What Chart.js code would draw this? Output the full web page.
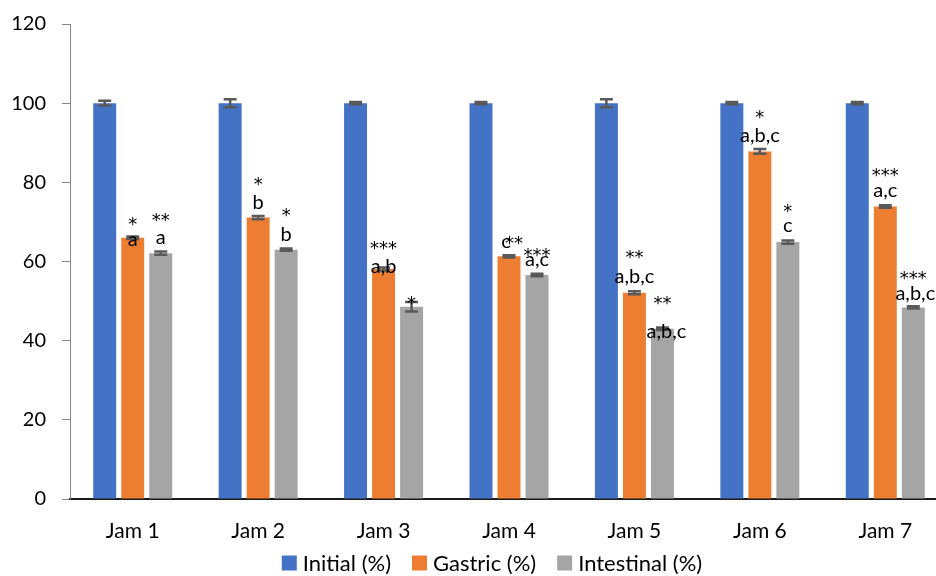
<!DOCTYPE html>
<html>
<head>
<meta charset="utf-8">
<script src="https://cdn.jsdelivr.net/npm/chart.js@4"></script>
<style>
  html, body { margin: 0; padding: 0; background: #ffffff; overflow: hidden; }
  #wrap { position: relative; width: 984px; height: 576px; }
</style>
</head>
<body>
<div id="wrap"><canvas id="c" width="984" height="576"></canvas></div>
<script>
// ---- data ----
const categories = ['Jam 1', 'Jam 2', 'Jam 3', 'Jam 4', 'Jam 5', 'Jam 6', 'Jam 7'];
const seriesNames = ['Initial (%)', 'Gastric (%)', 'Intestinal (%)'];

const initialValues    = [100, 100, 100, 100, 100, 100, 100];
const gastricValues    = [66.0, 71.1, 58.1, 61.3, 52.1, 87.8, 73.9];
const intestinalValues = [62.1, 63.0, 48.6, 56.6, 43.0, 64.9, 48.4];

const initialErrors    = [0.6, 1.0, 0.3, 0.3, 1.0, 0.3, 0.3];
const gastricErrors    = [0.3, 0.4, 0.4, 0.3, 0.4, 0.6, 0.3];
const intestinalErrors = [0.4, 0.3, 1.2, 0.3, 0.3, 0.4, 0.3];

// significance marks shown above the bars
const gastricStars      = ['*', '*', '***', '**', '**', '*', '***'];
const gastricLetters    = ['a', 'b', 'a,b', 'c', 'a,b,c', 'a,b,c', 'a,c'];
const intestinalStars   = ['**', '*', '*', '***', '**', '*', '***'];
const intestinalLetters = ['a', 'b', '', 'a,c', 'a,b,c', 'c', 'a,b,c'];

const yMin = 0, yMax = 120, yStep = 20;

// ---- label placement (px): letter baseline above bar top, star centre above that baseline, x shifts ----
const gastricMarkLayout = [
  { dy: -8, sy: 24, sx: 0, lx: 0 },
  { dy: 9,  sy: 27, sx: 0, lx: 0 },
  { dy: -4, sy: 28, sx: 0, lx: 0 },
  { dy: 8,  sy: 8,  sx: 5, lx: -3 },
  { dy: 10, sy: 28, sx: 0, lx: 0 },
  { dy: 9,  sy: 28, sx: 0, lx: 0 },
  { dy: 9,  sy: 25, sx: 0, lx: 0 }
];
const intestinalMarkLayout = [
  { dy: 9,   sy: 27, sx: 0, lx: 0 },
  { dy: 9,   sy: 28, sx: 0, lx: 0 },
  { dy: -19, sy: 25, sx: 0, lx: 0 },
  { dy: 9,   sy: 13, sx: 0, lx: 0 },
  { dy: -9,  sy: 37, sx: 0, lx: 4 },
  { dy: 10,  sy: 24, sx: 0, lx: 0 },
  { dy: 7,   sy: 25, sx: 0, lx: 2 }
];

const FONT = 'Lato, "Open Sans", "Noto Sans", sans-serif';
const STAR_FONT = '18px "DejaVu Sans", sans-serif';
const FONT_SIZE = 20;
const LABEL_SIZE = 21;
const LEGEND_SIZE = 22;
const TEXT = '#000000';
const COLORS = ['#4472C4', '#ED7D31', '#A5A5A5'];

// error bars drawn from the value/error arrays through the y scale
const errorBarPlugin = {
  id: 'errorBars',
  afterDatasetsDraw(chart) {
    const ctx = chart.ctx;
    const yScale = chart.scales.y;
    const errs = [initialErrors, gastricErrors, intestinalErrors];
    ctx.save();
    ctx.strokeStyle = '#595959';
    ctx.lineWidth = 2.5;
    chart.data.datasets.forEach((ds, i) => {
      const meta = chart.getDatasetMeta(i);
      meta.data.forEach((bar, j) => {
        const v = ds.data[j];
        const e = errs[i][j];
        const yT = yScale.getPixelForValue(v + e);
        const yB = yScale.getPixelForValue(v - e);
        const x = bar.x;
        const half = 6.5;
        ctx.beginPath();
        ctx.moveTo(x, yT); ctx.lineTo(x, yB);
        ctx.moveTo(x - half, yT); ctx.lineTo(x + half, yT);
        ctx.moveTo(x - half, yB); ctx.lineTo(x + half, yB);
        ctx.stroke();
      });
    });
    ctx.restore();
  }
};

// significance letters and asterisks
const marksPlugin = {
  id: 'marks',
  afterDatasetsDraw(chart) {
    const ctx = chart.ctx;
    ctx.save();
    ctx.fillStyle = TEXT;
    ctx.textAlign = 'center';
    ctx.textBaseline = 'alphabetic';
    const groups = [
      { ds: 1, stars: gastricStars, letters: gastricLetters, layout: gastricMarkLayout },
      { ds: 2, stars: intestinalStars, letters: intestinalLetters, layout: intestinalMarkLayout }
    ];
    groups.forEach(g => {
      const meta = chart.getDatasetMeta(g.ds);
      meta.data.forEach((bar, j) => {
        const L = g.layout[j];
        const base = bar.y - L.dy;
        if (g.letters[j]) {
          ctx.font = FONT_SIZE + 'px ' + FONT;
          ctx.fillText(g.letters[j], bar.x + L.lx, base);
        }
        if (g.stars[j]) {
          ctx.font = STAR_FONT;
          const m = ctx.measureText(g.stars[j]);
          const c = base - L.sy;
          const yDraw = c + (m.actualBoundingBoxAscent - m.actualBoundingBoxDescent) / 2;
          ctx.fillText(g.stars[j], bar.x + L.sx, yDraw);
        }
      });
    });
    ctx.restore();
  }
};

// legend row under the axis labels
const legendPlugin = {
  id: 'bottomLegend',
  afterDraw(chart) {
    const ctx = chart.ctx;
    ctx.save();
    ctx.font = LEGEND_SIZE + 'px ' + FONT;
    const box = 15, gapText = 6, gapItem = 21;
    const widths = seriesNames.map(n => box + gapText + ctx.measureText(n).width);
    const total = widths.reduce((a, b) => a + b, 0) + gapItem * (seriesNames.length - 1);
    let x = chart.width / 2 - total / 2;
    const cy = 563;
    ctx.textBaseline = 'middle';
    ctx.textAlign = 'left';
    seriesNames.forEach((n, i) => {
      ctx.fillStyle = COLORS[i];
      ctx.fillRect(x, cy - box / 2, box, box);
      ctx.fillStyle = TEXT;
      ctx.fillText(n, x + box + gapText, cy + 1);
      x += widths[i] + gapItem;
    });
    ctx.restore();
  }
};

new Chart(document.getElementById('c'), {
  type: 'bar',
  data: {
    labels: categories,
    datasets: seriesNames.map((n, i) => ({
      label: n,
      data: [initialValues, gastricValues, intestinalValues][i],
      backgroundColor: COLORS[i]
    }))
  },
  options: {
    responsive: false,
    animation: false,
    devicePixelRatio: 1,
    datasets: { bar: { categoryPercentage: 0.67, barPercentage: 0.82 } },
    layout: { padding: { left: 0, right: 36, top: 24, bottom: 0 } },
    plugins: {
      legend: { display: false },
      tooltip: { enabled: false }
    },
    scales: {
      x: {
        afterFit: (scale) => { scale.height = 77; scale.paddingLeft = 0; scale.paddingRight = 0; },
        grid: { display: false },
        border: { display: true, color: '#1a1a1a', width: 2 },
        ticks: { font: { family: FONT, size: LABEL_SIZE }, color: TEXT, padding: 12 }
      },
      y: {
        afterFit: (scale) => { scale.width = 70; scale.paddingTop = 0; scale.paddingBottom = 0; },
        min: yMin,
        max: yMax,
        ticks: { stepSize: yStep, font: { family: FONT, size: FONT_SIZE }, color: TEXT, padding: 16 },
        grid: { drawOnChartArea: false, drawTicks: true, tickLength: 8, color: '#868686' },
        border: { display: true, color: '#868686', width: 1 }
      }
    }
  },
  plugins: [errorBarPlugin, marksPlugin, legendPlugin]
});
</script>
</body>
</html>
